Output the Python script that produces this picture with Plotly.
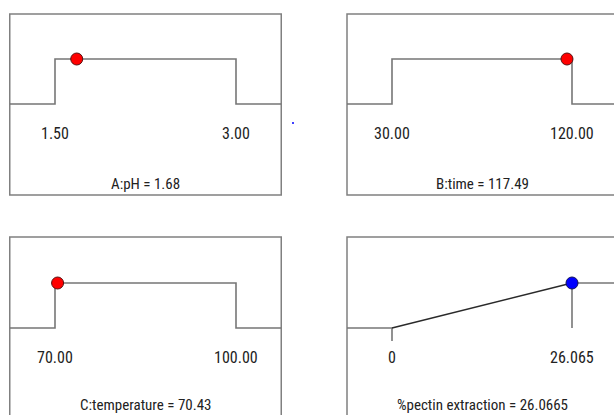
import plotly.graph_objects as go

# ---- data ----
factor_names = ["A:pH", "B:time", "C:temperature", "%pectin extraction"]
lows = [1.50, 30.00, 70.00, 0.0]
highs = [3.00, 120.00, 100.00, 26.065]
low_labels = ["1.50", "30.00", "70.00", "0"]
high_labels = ["3.00", "120.00", "100.00", "26.065"]
values = [1.68, 117.49, 70.43, 26.0665]
value_text = ["1.68", "117.49", "70.43", "26.0665"]
dot_colors = ["red", "red", "red", "blue"]

# ---- layout geometry (pixels) ----
W, H = 614, 415
cols = [(55, 236), (392, 572)]      # pixel of low / high value
rows = [(14, 195, 104, 59), (237, 418, 328, 283)]  # box top, box bottom, low-level, high-level
title_y = [-1.78, -1.71]
PAD = 0.25
FONT = "Liberation Sans Narrow, Roboto Condensed, DejaVu Sans Condensed, sans-serif"
GRAY = "#767676"

fig = go.Figure()
shapes = []
annotations = []
layout = {}

for i in range(4):
    r, c = divmod(i, 2)
    xlo_px, xhi_px = cols[c]
    top, bottom, low_py, high_py = rows[r]
    span_px = xhi_px - xlo_px
    L = xlo_px - PAD * span_px
    R = xhi_px + PAD * span_px
    Rc = min(R, W)
    bc = min(bottom, H)
    lo, hi = lows[i], highs[i]
    span = hi - lo
    ppu = span_px / span
    x0 = lo - (xlo_px - L) / ppu
    x1 = lo + (Rc - xlo_px) / ppu
    ypx = low_py - high_py
    y0 = -(bc - low_py) / ypx
    y1 = 1 + (high_py - top) / ypx

    n = "" if i == 0 else str(i + 1)
    xa, ya = "x" + n, "y" + n
    layout["xaxis" + n] = dict(domain=[L / W, Rc / W], range=[x0, x1], visible=False,
                               anchor=ya, fixedrange=True)
    layout["yaxis" + n] = dict(domain=[1 - bc / H, 1 - top / H], range=[y0, y1], visible=False,
                               anchor=xa, fixedrange=True)

    # frame
    shapes.append(dict(type="rect", xref="paper", yref="paper",
                       x0=L / W, x1=R / W, y0=1 - bottom / H, y1=1 - top / H,
                       line=dict(color="#808080", width=1.5), layer="below"))

    if i < 3:
        fig.add_trace(go.Scatter(x=[x0, lo, lo, hi, hi, x1], y=[0, 0, 1, 1, 0, 0],
                                 mode="lines", line=dict(color=GRAY, width=1.6),
                                 xaxis=xa, yaxis=ya, hoverinfo="skip", showlegend=False))
    else:
        fig.add_trace(go.Scatter(x=[x0, lo], y=[0, 0], mode="lines",
                                 line=dict(color=GRAY, width=1.6),
                                 xaxis=xa, yaxis=ya, hoverinfo="skip", showlegend=False))
        fig.add_trace(go.Scatter(x=[lo, lo], y=[0, -0.29], mode="lines",
                                 line=dict(color=GRAY, width=1.6),
                                 xaxis=xa, yaxis=ya, hoverinfo="skip", showlegend=False))
        fig.add_trace(go.Scatter(x=[lo, hi], y=[0, 1], mode="lines",
                                 line=dict(color="#2a2a2a", width=1.5),
                                 xaxis=xa, yaxis=ya, hoverinfo="skip", showlegend=False))
        fig.add_trace(go.Scatter(x=[hi, hi], y=[1, 0], mode="lines",
                                 line=dict(color=GRAY, width=1.6),
                                 xaxis=xa, yaxis=ya, hoverinfo="skip", showlegend=False))
        fig.add_trace(go.Scatter(x=[hi, x1], y=[1, 1], mode="lines",
                                 line=dict(color=GRAY, width=1.6),
                                 xaxis=xa, yaxis=ya, hoverinfo="skip", showlegend=False))

    fig.add_trace(go.Scatter(x=[values[i]], y=[1], mode="markers",
                             marker=dict(color=dot_colors[i], size=12,
                                         line=dict(color="#5a1010" if i < 3 else "#10105a", width=1)),
                             cliponaxis=False, xaxis=xa, yaxis=ya,
                             hoverinfo="skip", showlegend=False))

    for xv, txt in ((lo, low_labels[i]), (hi, high_labels[i])):
        annotations.append(dict(x=xv, y=-0.65, xref=xa, yref=ya, text=txt, showarrow=False,
                                xanchor="center", yanchor="middle",
                                font=dict(family=FONT, size=16, color="#222")))
    annotations.append(dict(x=(L + R) / 2 / W, y=title_y[r], xref="paper", yref=ya,
                            text=f"{factor_names[i]} = {value_text[i]}", showarrow=False,
                            xanchor="center", yanchor="middle",
                            font=dict(family=FONT, size=15, color="#222")))

# tiny blue speck seen in the reference
shapes.append(dict(type="circle", xref="paper", yref="paper",
                   x0=292 / W, x1=294 / W, y0=1 - 124 / H, y1=1 - 122 / H,
                   fillcolor="blue", line=dict(width=0)))

fig.update_layout(width=W, height=H, margin=dict(l=0, r=0, t=0, b=0),
                  paper_bgcolor="white", plot_bgcolor="white",
                  shapes=shapes, annotations=annotations, **layout)

fig.write_html("out.html", config={"displayModeBar": False},
               post_script="document.body.style.margin='0';document.body.style.overflow='hidden';")
